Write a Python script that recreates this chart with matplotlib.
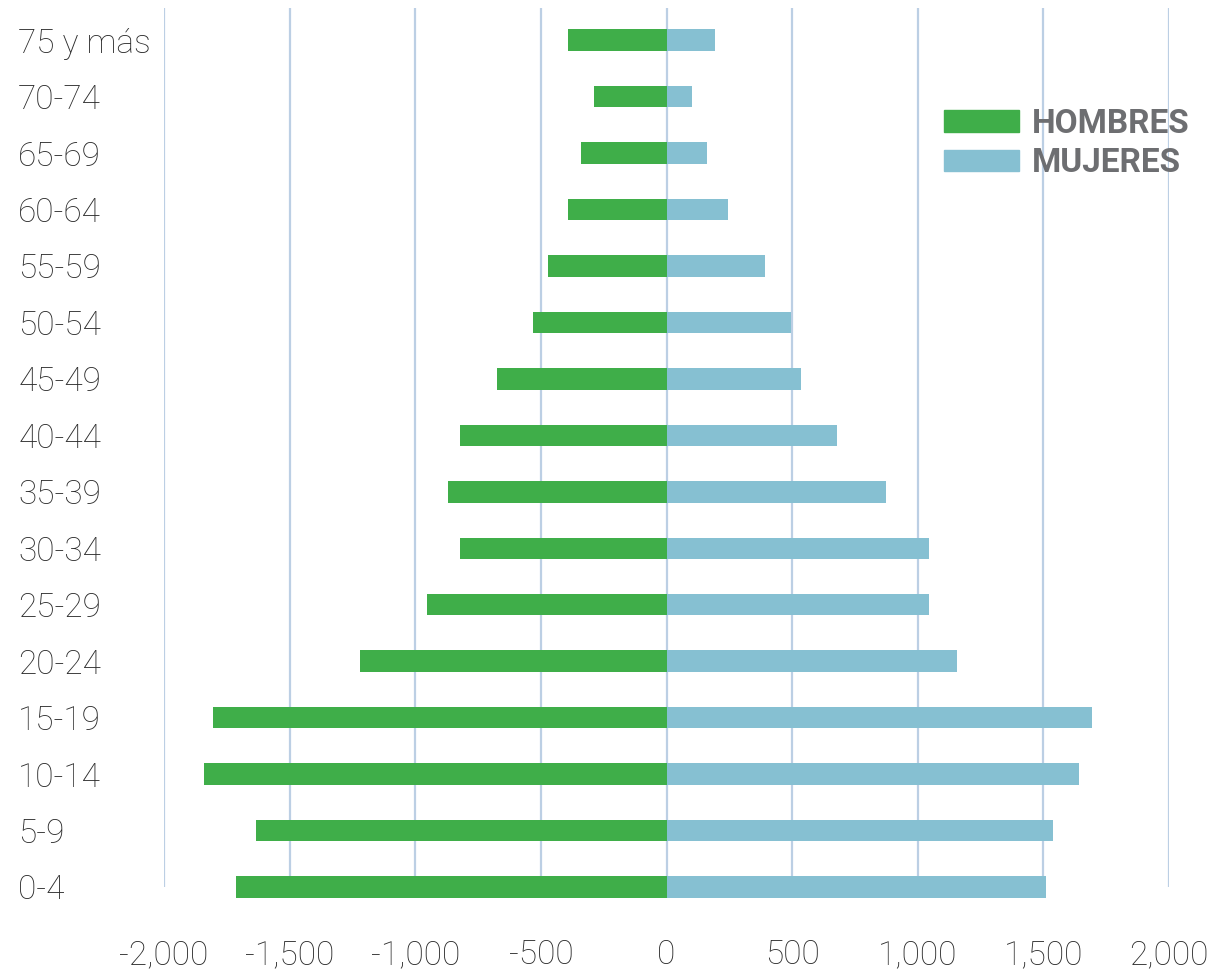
import matplotlib
matplotlib.use('Agg')
import matplotlib.pyplot as plt
from matplotlib.patches import Patch
from matplotlib.ticker import FuncFormatter

plt.rcParams['font.family'] = ['Roboto', 'DejaVu Sans']

# age groups, bottom to top
grupos = ['0-4', '5-9', '10-14', '15-19', '20-24', '25-29', '30-34', '35-39',
          '40-44', '45-49', '50-54', '55-59', '60-64', '65-69', '70-74', '75 y más']
hombres = [1715, 1635, 1840, 1805, 1220, 955, 820, 870,
           820, 675, 530, 470, 394, 339, 287, 394]
mujeres = [1512, 1540, 1641, 1692, 1155, 1044, 1044, 873,
           677, 534, 494, 394, 243, 163, 100, 195]
xticks = [-2000, -1500, -1000, -500, 0, 500, 1000, 1500, 2000]

verde = '#3fae49'
azul = '#86c0d2'
grid_col = '#bccfe4'

fig = plt.figure(figsize=(12.29, 9.74), dpi=100)
ax = fig.add_axes([164/1229, 1 - 918/974, (1169-164)/1229, (918-8)/974])

pos = list(range(len(grupos)))
ax.barh(pos, [-h for h in hombres], height=0.38, color=verde, zorder=3)
ax.barh(pos, mujeres, height=0.38, color=azul, zorder=3)

ax.set_xlim(-2000, 2000)
ax.set_ylim(-0.55, 15.57)
ax.vlines(xticks, 0, 15.57, colors=grid_col, linewidth=1.6, zorder=1)

ax.set_xticks(xticks)
ax.xaxis.set_major_formatter(FuncFormatter(lambda v, p: f'{int(v):,}'))
ax.set_yticks(pos)
ax.set_yticklabels(grupos)
for lab in ax.get_yticklabels():
    lab.set_horizontalalignment('left')
    lab.set_verticalalignment('center_baseline')
ax.tick_params(axis='y', length=0, pad=105, labelsize=24, labelcolor='#2b2b2b')
ax.tick_params(axis='x', length=0, pad=15, labelsize=24, labelcolor='#2b2b2b')
for lab in ax.get_xticklabels() + ax.get_yticklabels():
    lab.set_fontweight('light')
for s in ax.spines.values():
    s.set_visible(False)

handles = [Patch(color=verde, label='HOMBRES'), Patch(color=azul, label='MUJERES')]
leg = fig.legend(handles=handles, loc='upper left', bbox_to_anchor=(944/1229, 1 - 108/974),
                 bbox_transform=fig.transFigure, frameon=False, fontsize=24,
                 handlelength=2.25, handleheight=0.62, handletextpad=0.4,
                 labelspacing=0.22, borderpad=0, borderaxespad=0)
for t in leg.get_texts():
    t.set_color('#6d6e71')
    t.set_fontweight('bold')

fig.savefig('out.png', dpi=100)
